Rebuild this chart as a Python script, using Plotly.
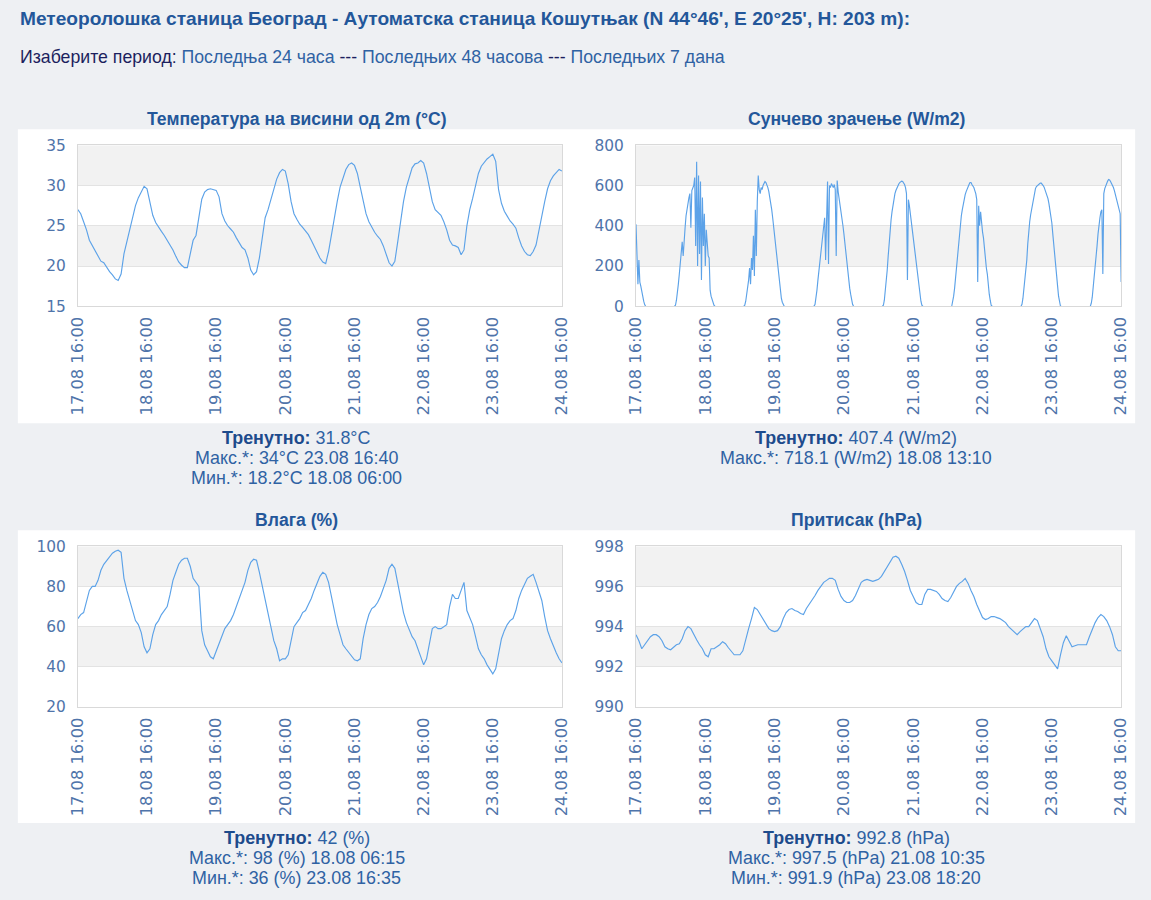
import plotly.graph_objects as go
from datetime import datetime, timedelta

# page is 1151x900; the html body keeps an 8px margin, so the figure is 1135x884 at (8, 8)
PAGE_W, PAGE_H, OFF = 1151, 900, 8
W, H = PAGE_W - 2 * OFF, PAGE_H - 2 * OFF
# measured mapping page -> photographed picture (screen = A + S * page)
AX, SX, AY, SY = 10.3, 0.983, 7.8, 0.98

# ---------------- data ----------------
START = "2024-08-17 16:00"
END = "2024-08-24 16:00"
tick_times = ["2024-08-17 16:00", "2024-08-18 16:00", "2024-08-19 16:00", "2024-08-20 16:00",
              "2024-08-21 16:00", "2024-08-22 16:00", "2024-08-23 16:00", "2024-08-24 16:00"]
tick_labels = ["17.08 16:00", "18.08 16:00", "19.08 16:00", "20.08 16:00",
               "21.08 16:00", "22.08 16:00", "23.08 16:00", "24.08 16:00"]

# hourly values from 17.08 16:00
temperature = [
    27.0, 26.5, 25.5, 24.5, 23.2, 22.5, 22.0, 21.3, 20.6, 20.4, 19.8, 19.3, 18.9, 18.4, 18.2, 19.0, 21.5, 23.0, 24.5, 26.0, 27.5, 28.5, 29.3, 29.9,
    29.6, 28.0, 26.3, 25.4, 24.8, 24.3, 23.8, 23.2, 22.6, 22.0, 21.2, 20.5, 20.1, 19.8, 19.8, 21.5, 23.2, 23.8, 26.0, 28.3, 29.2, 29.5, 29.6, 29.5,
    29.4, 28.6, 26.5, 25.6, 25.0, 24.6, 24.2, 23.5, 22.8, 22.3, 22.0, 21.0, 19.5, 18.9, 19.3, 21.0, 23.5, 26.0, 27.0, 28.3, 29.6, 30.8, 31.6, 32.0,
    31.8, 30.2, 28.0, 26.5, 25.8, 25.2, 24.8, 24.4, 23.9, 23.2, 22.5, 21.7, 21.0, 20.5, 20.3, 21.8, 24.0, 26.2, 28.0, 29.8, 31.0, 32.0, 32.6, 32.8,
    32.5, 31.5, 29.8, 28.0, 26.5, 25.5, 24.8, 24.2, 23.7, 23.3, 22.5, 21.5, 20.4, 20.0, 20.6, 23.0, 25.5, 28.0, 29.8, 31.0, 32.2, 32.7, 32.8, 33.1,
    32.8, 31.5, 29.5, 28.0, 27.0, 26.6, 26.3, 25.5, 24.5, 23.2, 22.6, 22.5, 22.3, 21.4, 22.0, 25.0, 27.0, 28.4, 30.0, 31.5, 32.4, 32.9, 33.3, 33.6,
    33.9, 33.0, 29.5, 27.8, 26.8, 26.2, 25.6, 25.2, 24.7, 23.5, 22.5, 21.8, 21.4, 21.3, 21.8, 22.6, 24.5, 26.2, 28.0, 29.6, 30.6, 31.2, 31.6, 32.0,
    31.8,
]

humidity = [
    64, 66, 67, 72, 78, 80, 80, 83, 88, 91, 93, 95, 96.5, 97.5, 98, 97, 84, 78, 73, 68, 63, 61, 57, 50,
    47, 49, 56, 61, 63, 66, 68, 70, 76, 83, 87, 91, 93, 94, 94, 90, 84, 82, 80, 58, 51, 48, 45, 44,
    48, 52, 56, 59, 61, 63, 66, 70, 74, 77, 82, 88, 92, 93.5, 93, 87, 80, 73, 66, 59, 53, 49, 43, 44,
    44, 46, 54, 60, 62, 64, 67, 68, 71, 74, 78, 82, 85, 87, 86, 82, 75, 69, 61, 56, 51, 49, 47, 45,
    43.5, 43, 44, 54, 61, 66, 69, 70, 72, 75, 79, 83, 89, 91, 89, 81, 73, 67, 62, 58, 55, 53, 49, 44,
    41, 44, 52, 59, 60, 59, 59, 60, 61, 70, 76, 74, 74, 78, 82, 68, 64, 61, 55, 49, 46, 44, 41, 39,
    36.5, 39, 46, 54, 58, 61, 63, 64, 68, 74, 78, 81, 84, 85, 86, 82, 78, 73, 65, 58, 54, 50, 47, 44,
    42,
]

pressure = [
    993.6, 993.3, 992.9, 993.1, 993.35, 993.5, 993.6, 993.6, 993.5, 993.3, 993.0, 992.9, 992.85, 993.0, 993.1, 993.15, 993.4, 993.8, 994.0, 993.9, 993.6, 993.35, 993.1, 992.9,
    992.6, 992.5, 992.9, 992.9, 993.0, 993.1, 993.25, 993.15, 992.95, 992.75, 992.6, 992.6, 992.6, 992.8, 993.4, 993.9, 994.4, 994.95, 994.85, 994.6, 994.4, 994.1, 993.9, 993.8,
    993.75, 993.8, 994.0, 994.4, 994.7, 994.85, 994.9, 994.8, 994.75, 994.65, 994.6, 994.9, 995.1, 995.35, 995.55, 995.8, 996.0, 996.2, 996.3, 996.4, 996.4, 996.3, 995.85, 995.5,
    995.3, 995.2, 995.2, 995.3, 995.55, 995.9, 996.2, 996.3, 996.35, 996.3, 996.25, 996.3, 996.35, 996.5, 996.75, 997.0, 997.25, 997.45, 997.5, 997.4, 997.1, 996.75, 996.3, 995.8,
    995.5, 995.2, 995.1, 995.1, 995.6, 995.85, 995.85, 995.8, 995.75, 995.6, 995.4, 995.3, 995.25, 995.45, 995.75, 996.0, 996.15, 996.25, 996.4, 996.15, 995.8, 995.5, 995.1, 994.8,
    994.45, 994.35, 994.4, 994.5, 994.5, 994.45, 994.4, 994.3, 994.2, 994.0, 993.85, 993.7, 993.6, 993.75, 993.9, 994.0, 994.0, 994.2, 994.4, 994.3, 993.9, 993.5, 992.9, 992.5,
    992.3, 992.1, 991.9, 992.6, 993.2, 993.55, 993.3, 993.0, 993.05, 993.1, 993.1, 993.1, 993.1, 993.5, 993.9, 994.2, 994.45, 994.6, 994.5, 994.3, 994.0, 993.6, 993.0, 992.8,
    992.8,
]

# solar radiation, 20-minute samples during daylight (nothing drawn at night)
solar_starts = ["2024-08-17 16:00", "2024-08-18 05:20", "2024-08-19 05:20", "2024-08-20 05:20",
                "2024-08-21 05:20", "2024-08-22 05:20", "2024-08-23 05:20", "2024-08-24 05:20"]
solar_17 = [407, 240, 110, 230, 120, 100, 70, 55, 25, 8, 0]
solar_18 = [0, 5, 30, 60, 110, 160, 230, 300, 320, 250, 360, 390, 450, 490, 520, 540, 560, 390, 575, 590,
            600, 640, 300, 718, 200, 650, 260, 620, 130, 540, 300, 460, 200, 380, 300, 250, 240, 80, 50, 30,
            15, 5, 0]
solar_19 = [0, 5, 25, 55, 90, 130, 190, 110, 240, 180, 350, 150, 480, 250, 520, 650, 580, 560, 590, 580,
            600, 610, 620, 615, 605, 590, 570, 545, 515, 480, 440, 395, 345, 295, 245, 195, 150, 110, 70, 40,
            20, 5, 0]
solar_20 = [0, 0, 10, 40, 80, 130, 175, 220, 260, 300, 360, 400, 440, 230, 500, 620, 210, 600, 590, 610,
            600, 590, 605, 580, 250, 625, 570, 540, 510, 480, 440, 400, 360, 310, 260, 210, 170, 120, 90, 60,
            30, 10, 0]
solar_21 = [0, 5, 30, 70, 120, 180, 250, 320, 380, 430, 470, 505, 535, 560, 575, 590, 600, 608, 615, 620,
            622, 620, 615, 605, 590, 560, 130, 530, 500, 460, 420, 375, 340, 300, 255, 210, 165, 120, 85, 55,
            25, 5, 0]
solar_22 = [0, 20, 50, 90, 140, 200, 260, 320, 370, 410, 450, 480, 510, 535, 555, 570, 585, 595, 605, 615,
            615, 605, 598, 590, 575, 560, 530, 120, 500, 400, 470, 400, 370, 340, 280, 230, 190, 160, 100, 60,
            30, 5, 0]
solar_23 = [0, 10, 40, 80, 120, 160, 230, 310, 380, 420, 455, 485, 515, 545, 570, 585, 595, 600, 605, 610,
            612, 612, 608, 600, 592, 580, 565, 550, 535, 510, 480, 450, 415, 360, 300, 260, 220, 160, 100, 50,
            10, 0, 0]
solar_24 = [0, 15, 45, 90, 140, 190, 240, 300, 360, 410, 440, 470, 480, 160, 560, 585, 600, 612, 622, 630,
            628, 620, 612, 605, 590, 575, 555, 530, 510, 490, 470, 460, 120]
solar_days = [solar_17, solar_18, solar_19, solar_20, solar_21, solar_22, solar_23, solar_24]

# text blocks
page_title = "Метеоролошка станица Београд - Аутоматска станица Кошутњак (N 44°46', E 20°25', H: 203 m):"
period_label = "Изаберите период:"
period_links = ["Последња 24 часа", "Последњих 48 часова", "Последњих 7 дана"]
chart_titles = ["Температура на висини од 2m (°C)", "Сунчево зрачење (W/m2)", "Влага (%)", "Притисак (hPa)"]
stat_current = ["31.8°C", "407.4 (W/m2)", "42 (%)", "992.8 (hPa)"]
stat_max = ["34°C 23.08 16:40", "718.1 (W/m2) 18.08 13:10", "98 (%) 18.08 06:15", "997.5 (hPa) 21.08 10:35"]
stat_min = ["18.2°C 18.08 06:00", None, "36 (%) 23.08 16:35", "991.9 (hPa) 23.08 18:20"]

y_ranges = [(15, 35, 5), (0, 800, 200), (20, 100, 20), (990, 998, 2)]

# ---------------- build ----------------
t0 = datetime.strptime(START, "%Y-%m-%d %H:%M")
hourly_x = [t0 + timedelta(hours=i) for i in range(len(temperature))]

solar_x, solar_y = [], []
for s, vals in zip(solar_starts, solar_days):
    ts = datetime.strptime(s, "%Y-%m-%d %H:%M")
    for k, v in enumerate(vals):
        solar_x.append(ts + timedelta(minutes=20 * k))
        solar_y.append(v)
    solar_x.append(ts + timedelta(minutes=20 * len(vals)))
    solar_y.append(None)  # break over the night

series = [(hourly_x, temperature), (solar_x, solar_y), (hourly_x, humidity), (hourly_x, pressure)]

# panel geometry in target-picture pixels
panels = [
    dict(l=78, r=562, t=144, b=305, bx0=18, bx1=576, by0=128, by1=422, cx=297, ty=118, sy=437),
    dict(l=636, r=1121, t=144, b=305, bx0=576, bx1=1135, by0=128, by1=422, cx=856, ty=118, sy=437),
    dict(l=78, r=562, t=545, b=706, bx0=18, bx1=576, by0=529, by1=822, cx=297, ty=519, sy=837),
    dict(l=636, r=1121, t=545, b=706, bx0=576, bx1=1135, by0=529, by1=822, cx=856, ty=519, sy=837),
]

def fx(px):
    return ((px - AX) / SX - OFF) / W

def fy(py):
    return 1 - ((py - AY) / SY - OFF) / H

LINE = "#5ca2e8"
TICK = "#4f74aa"
TITLE = "#23579a"
TEXT = "#2f62a3"
DARK = "#1d4b8c"
NAVY = "#1c1f5e"
BAND = "#f2f2f2"
GRID = "#e3e3e3"
BORDER = "#d9d9d9"
PAGE_BG = "#eef0f3"

fig = go.Figure()
layout = dict(
    width=W, height=H,
    margin=dict(l=0, r=0, t=0, b=0),
    paper_bgcolor=PAGE_BG,
    plot_bgcolor="rgba(0,0,0,0)",
    showlegend=False,
    shapes=[], annotations=[],
)

def add_text(x, y, text, size, color, anchor="center", family="Liberation Sans"):
    layout["annotations"].append(dict(
        x=fx(x), y=fy(y), xref="paper", yref="paper", xanchor=anchor, yanchor="middle",
        text=text, showarrow=False, font=dict(family=family, size=size, color=color)))

for i, (p, (xs, ys), (ymin, ymax, dt)) in enumerate(zip(panels, series, y_ranges)):
    n = "" if i == 0 else str(i + 1)
    xa, ya = "x" + n, "y" + n
    fig.add_trace(go.Scatter(x=xs, y=ys, mode="lines", xaxis=xa, yaxis=ya, connectgaps=False,
                             line=dict(color=LINE, width=1.15), hoverinfo="skip"))
    layout["xaxis" + n] = dict(
        domain=[fx(p["l"]), fx(p["r"])], anchor=ya, type="date",
        range=[START, END], tickmode="array", tickvals=tick_times, ticktext=tick_labels,
        tickangle=-90, tickfont=dict(family="DejaVu Sans", size=16.3, color=TICK),
        ticks="outside", ticklen=3, tickcolor="rgba(0,0,0,0)",
        showgrid=False, zeroline=False, showline=True, mirror=True, linecolor=BORDER, linewidth=1,
        fixedrange=True,
    )
    layout["yaxis" + n] = dict(
        domain=[fy(p["b"]), fy(p["t"])], anchor=xa, range=[ymin, ymax], dtick=dt, tick0=ymin,
        tickfont=dict(family="DejaVu Sans", size=15.4, color=TICK),
        ticks="outside", ticklen=8, tickcolor="rgba(0,0,0,0)",
        showgrid=True, gridcolor=GRID, zeroline=False, showline=True, mirror=True,
        linecolor=BORDER, linewidth=1, fixedrange=True,
    )
    # white chart box
    layout["shapes"].append(dict(type="rect", xref="paper", yref="paper", layer="below",
                                 x0=fx(p["bx0"]), x1=fx(p["bx1"]), y0=fy(p["by1"]), y1=fy(p["by0"]),
                                 fillcolor="white", line=dict(width=0)))
    # alternating grey bands
    for k in range(0, 4, 2):
        y1 = ymax - k * dt
        layout["shapes"].append(dict(type="rect", xref=xa + " domain", yref=ya, layer="below",
                                     x0=0, x1=1, y0=y1 - dt, y1=y1, fillcolor=BAND, line=dict(width=0)))
    # chart title
    add_text(p["cx"], p["ty"], "<b>" + chart_titles[i] + "</b>", 17.6, TITLE)
    # statistics, one line each
    add_text(p["cx"], p["sy"], "<b><span style='color:%s'>Тренутно:</span></b> %s" % (DARK, stat_current[i]),
             17.9, TEXT)
    add_text(p["cx"], p["sy"] + 20, "Макс.*: " + stat_max[i], 17.9, TEXT)
    if stat_min[i]:
        add_text(p["cx"], p["sy"] + 40, "Мин.*: " + stat_min[i], 17.9, TEXT)

# page header
add_text(18, 17, "<b>" + page_title + "</b>", 19.15, TITLE, anchor="left")
sep = " <span style='color:%s'>---</span> " % NAVY
period_text = "<span style='color:%s'>%s</span> " % (NAVY, period_label) + sep.join(
    "<span style='color:%s'>%s</span>" % (TEXT, s) for s in period_links)
add_text(18, 56, period_text, 17.7, TEXT, anchor="left")

fig.update_layout(**layout)
fig.write_html("out.html", config={"displayModeBar": False},
               post_script="document.body.style.background='%s';" % PAGE_BG)
